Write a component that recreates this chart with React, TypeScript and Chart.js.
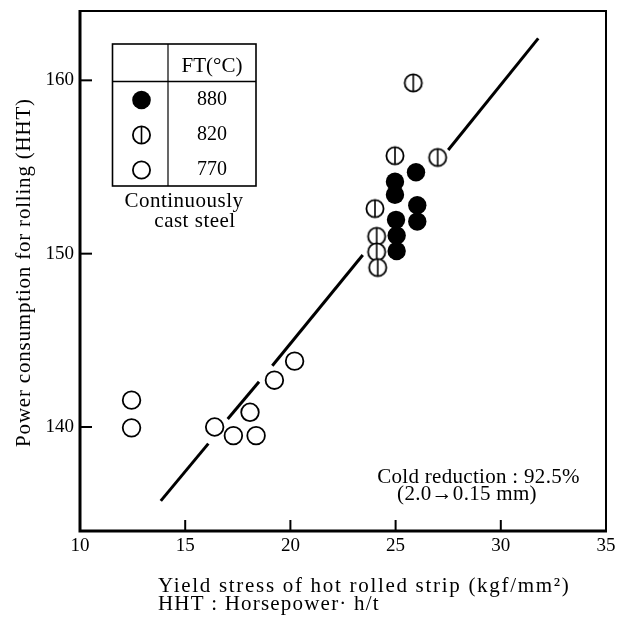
import React, { useEffect, useRef } from 'react';
import { Chart, registerables } from 'chart.js';

Chart.register(...registerables);

// ---- data ----
const xTicks = [10, 15, 20, 25, 30, 35];
const yTicks = [140, 150, 160];
const xInnerTicks = [15, 20, 25, 30];

// FT 880 °C (filled circles)
const ft880X = [25.97, 24.97, 24.97, 26.03, 26.03, 25.02, 25.05, 25.05];
const ft880Y = [154.7, 154.15, 153.4, 152.8, 151.85, 151.95, 151.05, 150.15];
// FT 820 °C (circle with vertical bar)
const ft820X = [25.84, 24.97, 27.0, 24.02, 24.1, 24.1, 24.15];
const ft820Y = [159.85, 155.65, 155.55, 152.6, 151.0, 150.1, 149.2];
// FT 770 °C (open circles)
const ft770X = [12.45, 12.45, 16.4, 17.29, 18.37, 18.08, 19.24, 20.2];
const ft770Y = [141.55, 139.95, 140.0, 139.5, 139.5, 140.85, 142.7, 143.8];

// fitted line, drawn as broken segments (as in the reference)
const fitStartX = [13.84, 17.02, 19.14, 27.5];
const fitStartY = [135.74, 140.46, 143.53, 155.98];
const fitEndX = [16.1, 18.51, 23.44, 31.78];
const fitEndY = [139.04, 142.61, 149.92, 162.42];

const legendLabels = ['880', '820', '770'];
const xTitleLines = ['Yield stress of hot rolled strip (kgf/mm\u00B2)', 'HHT : Horsepower\u00B7 h/t'];
const yTitle = 'Power consumption for rolling (HHT)';
const noteLines = ['Cold reduction : 92.5%', '(2.0\u21920.15 mm)'];

const SERIF = '"Liberation Serif", "Times New Roman", "DejaVu Serif", serif';

function makeHalfMarker(): HTMLCanvasElement {
  const c = document.createElement('canvas');
  c.width = 24;
  c.height = 24;
  const g = c.getContext('2d')!;
  g.fillStyle = '#fff';
  g.strokeStyle = '#000';
  g.lineWidth = 1.8;
  g.beginPath();
  g.arc(12, 12, 8.6, 0, Math.PI * 2);
  g.fill();
  g.stroke();
  g.lineWidth = 1.6;
  g.beginPath();
  g.moveTo(12, 3.4);
  g.lineTo(12, 20.6);
  g.stroke();
  return c;
}

function drawMarker(ctx: CanvasRenderingContext2D, kind: number, x: number, y: number, r: number) {
  ctx.save();
  ctx.strokeStyle = '#000';
  ctx.lineWidth = 1.8;
  ctx.beginPath();
  ctx.arc(x, y, r, 0, Math.PI * 2);
  if (kind === 0) {
    ctx.fillStyle = '#000';
    ctx.fill();
  } else {
    ctx.fillStyle = '#fff';
    ctx.fill();
    ctx.stroke();
    if (kind === 1) {
      ctx.lineWidth = 1.6;
      ctx.beginPath();
      ctx.moveTo(x, y - r);
      ctx.lineTo(x, y + r);
      ctx.stroke();
    }
  }
  ctx.restore();
}

const decorPlugin = {
  id: 'decor',
  afterDraw(chart: any) {
    const ctx: CanvasRenderingContext2D = chart.ctx;
    const { left, right, top, bottom } = chart.chartArea;
    const xs = chart.scales.x;
    const ys = chart.scales.y;
    ctx.save();
    ctx.strokeStyle = '#000';
    ctx.fillStyle = '#000';
    // frame
    ctx.lineWidth = 2;
    ctx.beginPath();
    ctx.moveTo(left, top);
    ctx.lineTo(right, top);
    ctx.lineTo(right, bottom);
    ctx.stroke();
    ctx.lineWidth = 3;
    ctx.beginPath();
    ctx.moveTo(left, top - 1);
    ctx.lineTo(left, bottom);
    ctx.lineTo(right + 1, bottom);
    ctx.stroke();
    // inward ticks
    ctx.lineWidth = 2;
    xInnerTicks.forEach((v) => {
      const px = xs.getPixelForValue(v);
      ctx.beginPath();
      ctx.moveTo(px, bottom);
      ctx.lineTo(px, bottom - 11);
      ctx.stroke();
    });
    yTicks.forEach((v) => {
      const py = ys.getPixelForValue(v);
      ctx.beginPath();
      ctx.moveTo(left, py);
      ctx.lineTo(left + 12, py);
      ctx.stroke();
    });

    // legend table
    ctx.lineWidth = 1.6;
    ctx.strokeRect(112.5, 44, 143.5, 142);
    ctx.beginPath();
    ctx.moveTo(112.5, 81.5);
    ctx.lineTo(256, 81.5);
    ctx.stroke();
    ctx.lineWidth = 1.2;
    ctx.beginPath();
    ctx.moveTo(168, 44);
    ctx.lineTo(168, 186);
    ctx.stroke();

    ctx.textAlign = 'center';
    ctx.textBaseline = 'alphabetic';
    ctx.font = `21px ${SERIF}`;
    ctx.fillText('FT(\u00B0C)', 212, 71.5);
    ctx.font = `20px ${SERIF}`;
    legendLabels.forEach((lab, i) => {
      const cy = 100 + i * 35;
      drawMarker(ctx, i, 141.5, cy, i === 0 ? 9.3 : 8.6);
      ctx.fillText(lab, 212, 105 + i * 35);
    });
    ctx.font = `21px ${SERIF}`;
    (ctx as any).letterSpacing = '0.5px';
    ctx.fillText('Continuously', 184, 207);
    ctx.fillText('cast steel', 195, 227);

    // note
    (ctx as any).letterSpacing = '0.3px';
    ctx.fillText(noteLines[0], 478.5, 483);
    ctx.fillText(noteLines[1], 467, 500);

    // x title
    ctx.textAlign = 'left';
    (ctx as any).letterSpacing = '1.7px';
    ctx.fillText(xTitleLines[0], 158, 592);
    (ctx as any).letterSpacing = '1.2px';
    ctx.fillText(xTitleLines[1], 158, 610);

    // y title
    (ctx as any).letterSpacing = '0.8px';
    ctx.translate(30, 272.5);
    ctx.rotate(-Math.PI / 2);
    ctx.textAlign = 'center';
    ctx.fillText(yTitle, 0, 0);
    (ctx as any).letterSpacing = '0px';
    ctx.restore();
  },
};

export default function App() {
  const ref = useRef<HTMLCanvasElement>(null);

  useEffect(() => {
    const canvas = ref.current;
    if (!canvas) return;
    const half = makeHalfMarker();
    const datasets: any[] = [];
    fitStartX.forEach((x, i) => {
      datasets.push({
        type: 'line',
        data: [
          { x, y: fitStartY[i] },
          { x: fitEndX[i], y: fitEndY[i] },
        ],
        borderColor: '#000',
        borderWidth: 3,
        borderCapStyle: 'butt',
        pointRadius: 0,
        showLine: true,
        fill: false,
        order: 10,
      });
    });
    datasets.push({
      type: 'scatter',
      label: '770',
      data: ft770X.map((x, i) => ({ x, y: ft770Y[i] })),
      pointStyle: 'circle',
      pointRadius: 8.8,
      backgroundColor: '#fff',
      borderColor: '#000',
      borderWidth: 1.8,
      order: 3,
    });
    datasets.push({
      type: 'scatter',
      label: '820',
      data: ft820X.map((x, i) => ({ x, y: ft820Y[i] })),
      pointStyle: half,
      pointRadius: 9,
      order: 2,
    });
    datasets.push({
      type: 'scatter',
      label: '880',
      data: ft880X.map((x, i) => ({ x, y: ft880Y[i] })),
      pointStyle: 'circle',
      pointRadius: 9.2,
      backgroundColor: '#000',
      borderColor: '#000',
      borderWidth: 0,
      order: 1,
    });

    const zeroPad = (s: any) => {
      s.paddingLeft = 0;
      s.paddingRight = 0;
      s.paddingTop = 0;
      s.paddingBottom = 0;
    };

    const chart = new Chart(canvas, {
      type: 'scatter',
      data: { datasets },
      options: {
        animation: false,
        responsive: false,
        events: [],
        layout: { padding: { left: 0, top: 11, right: 11, bottom: 0 } },
        plugins: {
          legend: { display: false },
          tooltip: { enabled: false },
          title: { display: false },
        },
        scales: {
          x: {
            type: 'linear',
            min: 10,
            max: 35,
            afterBuildTicks: (s: any) => {
              s.ticks = xTicks.map((v) => ({ value: v }));
            },
            afterFit: (s: any) => {
              s.height = 91;
              zeroPad(s);
            },
            grid: { display: false, drawTicks: false },
            border: { display: false },
            ticks: {
              color: '#000',
              font: { family: SERIF, size: 19 },
              padding: 4,
              maxRotation: 0,
              autoSkip: false,
            },
          },
          y: {
            type: 'linear',
            min: 134,
            max: 164,
            afterBuildTicks: (s: any) => {
              s.ticks = yTicks.map((v) => ({ value: v }));
            },
            afterFit: (s: any) => {
              s.width = 80;
              zeroPad(s);
            },
            grid: { display: false, drawTicks: false },
            border: { display: false },
            ticks: {
              color: '#000',
              font: { family: SERIF, size: 19 },
              padding: 6,
              autoSkip: false,
            },
          },
        },
      } as any,
      plugins: [decorPlugin],
    });
    return () => chart.destroy();
  }, []);

  return (
    <div style={{ position: 'fixed', left: 0, top: 0, width: 617, height: 622, background: '#fff' }}>
      <canvas ref={ref} width={617} height={622} style={{ width: 617, height: 622, display: 'block' }} />
    </div>
  );
}
